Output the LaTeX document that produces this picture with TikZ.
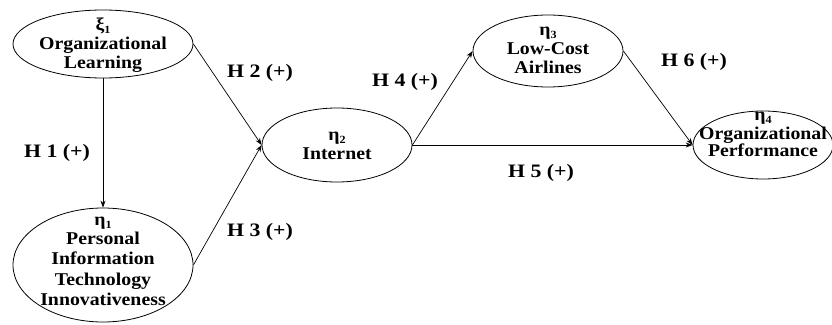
\documentclass[tikz,border=0pt]{standalone}
\usepackage{fontspec}
\setmainfont{Liberation Serif}
\newfontfamily\wideserif{Liberation Serif}[FakeStretch=1.1]
\newfontfamily\widerserif{Liberation Serif}[FakeStretch=1.15]
\usetikzlibrary{arrows.meta,shapes.geometric}
\newcommand{\gsub}[2]{#1\raisebox{-2.5pt}{\fontsize{11}{11}\selectfont #2}}
\begin{document}
\begin{tikzpicture}[x=1pt,y=-1pt,
  ell/.style={draw,ellipse,line width=0.8pt,inner sep=0pt},
  txt/.style={align=center,font=\wideserif\bfseries\fontsize{18}{19.5}\selectfont,inner sep=0pt},
  hyp/.style={font=\widerserif\bfseries\fontsize{19}{20}\selectfont,inner sep=0pt},
  arr/.style={line width=0.7pt,-{Stealth[length=7pt,width=5pt]}}]
\useasboundingbox (0,0) rectangle (832,324);
\clip (0,0) rectangle (832,324);
% caption (only its lowest part falls inside the picture)
\node[anchor=base west,inner sep=0pt,font=\itshape\fontsize{16}{18}\selectfont] (cap) at (289,-4) {Figure 1: Research Hypotheses};
% ellipses
\node[ell,minimum width=180pt,minimum height=68pt] (xi1) at (103,44) {};
\node[ell,minimum width=180pt,minimum height=114pt] (eta1) at (103,265) {};
\node[ell,minimum width=150pt,minimum height=74pt] (eta2) at (337,145) {};
\node[ell,minimum width=150pt,minimum height=72pt] (eta3) at (548,51) {};
\node[ell,minimum width=140pt,minimum height=68pt] (eta4) at (763,145) {};
% texts
\node[txt,anchor=north] (t1) at (103,18) {\gsub{ξ}{1}\\[-1pt]Organizational\\Learning};
\node[txt,anchor=north,font=\wideserif\bfseries\fontsize{18}{20.5}\selectfont] (t2) at (103,217) {\gsub{η}{1}\\[-2pt]Personal\\Information\\Technology\\Innovativeness};
\node[txt,anchor=north] (t3) at (337,132) {\gsub{η}{2}\\[-1pt]Internet};
\node[txt,anchor=north] (t4) at (548,27) {\gsub{η}{3}\\[-1pt]Low-Cost\\Airlines};
\node[txt,anchor=north] (t5) at (763,112) {\gsub{η}{4}\\[-1pt]Organizational\\[-2pt]Performance};
% connectors
\draw[arr] (xi1.south) -- (eta1.north);
\draw[arr] (xi1.east) -- (eta2.west);
\draw[arr] (eta1.east) -- (eta2.west);
\draw[arr] (eta2.east) -- (eta3.west);
\draw[arr] (eta2.east) -- (eta4.west);
\draw[arr] (eta3.east) -- (eta4.west);
% hypothesis labels
\node[hyp] (h1) at (57,153) {H 1 (+)};
\node[hyp] (h2) at (260,73) {H 2 (+)};
\node[hyp] (h3) at (260,232) {H 3 (+)};
\node[hyp] (h4) at (405,82) {H 4 (+)};
\node[hyp] (h5) at (541,173) {H 5 (+)};
\node[hyp] (h6) at (694,62) {H 6 (+)};
\end{tikzpicture}
\end{document}
